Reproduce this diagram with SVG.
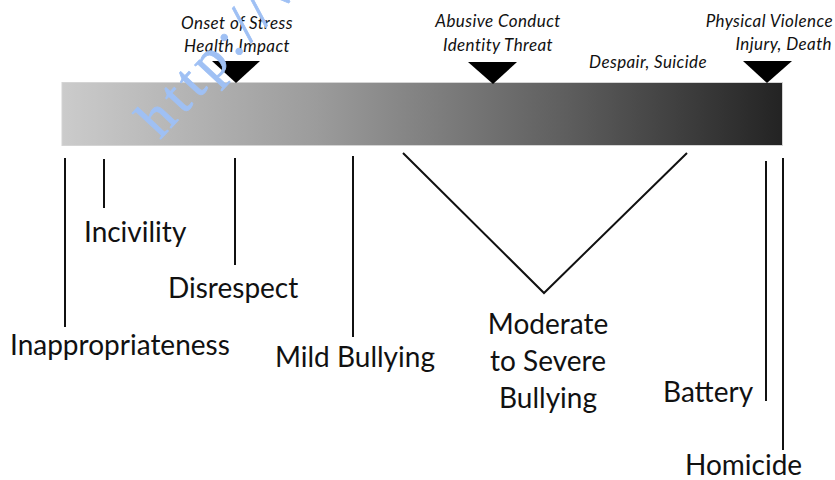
<svg xmlns="http://www.w3.org/2000/svg" width="835" height="480" viewBox="0 0 835 480">
<defs>
<linearGradient id="bar" x1="0" y1="0" x2="1" y2="0">
<stop offset="0" stop-color="#cbcbcb"/>
<stop offset="0.35" stop-color="#9c9c9c"/>
<stop offset="0.7" stop-color="#5e5e5e"/>
<stop offset="1" stop-color="#232323"/>
</linearGradient>
</defs>
<style>
.top{font-family:Lato,"Open Sans","DejaVu Sans",sans-serif;font-style:italic;font-size:17px;letter-spacing:0.4px;fill:#111}
.lab{font-family:Lato,"Open Sans","DejaVu Sans",sans-serif;font-size:28px;fill:#111}
.ln{stroke:#111;stroke-width:2;fill:none}
.tri{fill:#000}
.wm{font-family:"Liberation Serif",serif;font-size:56px;letter-spacing:6px;fill:#9fc0f4;stroke:#9fc0f4;stroke-width:0.8px}
</style>
<rect x="62" y="82.5" width="720.5" height="63" fill="url(#bar)" stroke="#d4d4d4" stroke-width="1"/>
<g id="markers">
<polygon class="tri" points="212,61 260,61 236,83"/>
<polygon class="tri" points="468,62 517,62 493,84"/>
<polygon class="tri" points="743,61 792,61 767,83"/>
</g>
<g id="top-labels">
<text class="top" x="237" y="29" text-anchor="middle">Onset of Stress</text>
<text class="top" x="237" y="52" text-anchor="middle">Health Impact</text>
<text class="top" x="498" y="27" text-anchor="middle">Abusive Conduct</text>
<text class="top" x="498" y="51" text-anchor="middle">Identity Threat</text>
<text class="top" x="648" y="68" text-anchor="middle">Despair, Suicide</text>
<text class="top" x="833" y="27" text-anchor="end">Physical Violence</text>
<text class="top" x="832" y="50" text-anchor="end">Injury, Death</text>
</g>
<g id="connectors">
<line class="ln" x1="65" y1="158" x2="65" y2="327"/>
<line class="ln" x1="104" y1="159" x2="104" y2="208"/>
<line class="ln" x1="235" y1="158" x2="235" y2="265"/>
<line class="ln" x1="353" y1="156" x2="353" y2="337"/>
<polyline class="ln" points="403,153 544,293 687,153"/>
<line class="ln" x1="766" y1="161" x2="766" y2="401"/>
<line class="ln" x1="783" y1="158" x2="783" y2="450"/>
</g>
<g id="inappropriateness"><text class="lab" x="10" y="355">Inappropriateness</text></g>
<g id="incivility"><text class="lab" x="84" y="242">Incivility</text></g>
<g id="disrespect"><text class="lab" x="168" y="298">Disrespect</text></g>
<g id="mild-bullying"><text class="lab" x="275" y="367">Mild Bullying</text></g>
<g id="moderate-severe-bullying">
<text class="lab" x="548" y="334" text-anchor="middle">Moderate</text>
<text class="lab" x="548" y="371" text-anchor="middle">to Severe</text>
<text class="lab" x="548" y="408" text-anchor="middle">Bullying</text>
</g>
<g id="battery"><text class="lab" x="663" y="402">Battery</text></g>
<g id="homicide"><text class="lab" x="685" y="475">Homicide</text></g>
<text class="wm" transform="translate(160,140) rotate(-47)">http://w</text>
</svg>
